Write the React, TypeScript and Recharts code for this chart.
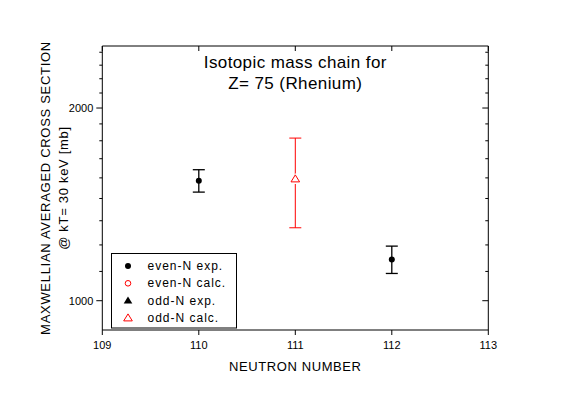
import React from 'react';
import { ScatterChart, Scatter, XAxis, YAxis, ErrorBar, ReferenceArea, Legend, Label } from 'recharts';

// neutron number axis
const neutronTicks = [109, 110, 111, 112, 113];
// MACS axis (log), major ticks labelled, minors every 1/9 of a thousand
const macsMajorTicks = [1000, 2000];
const macsDomain = [900, 2500];
const macsMinorStep = 1000 / 9;

// even-N experimental values
const evenExpN = [110, 112];
const evenExpMacs = [1540, 1160];
const evenExpErr = [62, 57];

// odd-N calculated values
const oddCalcN = [111];
const oddCalcMacs = [1550];
const oddCalcErrDown = [250];
const oddCalcErrUp = [245];

const seriesNames = ['even-N exp.', 'even-N calc.', 'odd-N exp.', 'odd-N calc.'];

const W = 551;
const H = 375;
const margin = { top: 38, right: 70.7, bottom: 13, left: 44.3 };
const yAxisW = 50;
const xAxisH = 40;
const plotW = W - margin.left - margin.right - yAxisW;
const plotH = H - margin.top - margin.bottom - xAxisH;

const FONT = 'Arial, "Liberation Sans", sans-serif';

const yTicks: number[] = [];
for (let k = 0; 1000 + k * macsMinorStep <= macsDomain[1]; k++) {
  yTicks.push(1000 + k * macsMinorStep);
}

const evenExpData = evenExpN.map((n, i) => ({ n, macs: evenExpMacs[i], err: evenExpErr[i] }));
const oddCalcData = oddCalcN.map((n, i) => ({ n, macs: oddCalcMacs[i], err: [oddCalcErrDown[i], oddCalcErrUp[i]] }));

const isMajor = (v: number) => macsMajorTicks.some((m) => Math.abs(m - v) < 1);

const YTick = (props: any) => {
  const { x, y, payload } = props;
  const major = isMajor(payload.value);
  const len = major ? 6 : 3;
  return (
    <g>
      <line x1={x - len} x2={x} y1={y} y2={y} stroke="#000" />
      <line x1={x + plotW - len} x2={x + plotW} y1={y} y2={y} stroke="#000" />
      {major && (
        <text x={x - 9} y={y} dy={4} textAnchor="end" fontSize={11} fontFamily={FONT} fill="#000">
          {Math.round(payload.value)}
        </text>
      )}
    </g>
  );
};

const XTick = (props: any) => {
  const { x, y, payload } = props;
  return (
    <g>
      <line x1={x} x2={x} y1={y} y2={y + 5} stroke="#000" />
      <line x1={x} x2={x} y1={y - plotH} y2={y - plotH + 5} stroke="#000" />
      <text x={x} y={y + 19} textAnchor="middle" fontSize={11} fontFamily={FONT} fill="#000">
        {payload.value}
      </text>
    </g>
  );
};

const Dot = (props: any) => <circle cx={props.cx} cy={props.cy} r={3} fill="#000" />;

const Triangle = (props: any) => {
  const { cx, cy } = props;
  return (
    <g>
      <path d={`M${cx},${cy - 6} L${cx + 6},${cy + 5} L${cx - 6},${cy + 5} Z`} fill="#fff" />
      <path d={`M${cx},${cy - 4} L${cx + 4.3},${cy + 3} L${cx - 4.3},${cy + 3} Z`} fill="#fff" stroke="#f00" strokeWidth={1} />
    </g>
  );
};

const legendMarker = (name: string, x: number, y: number) => {
  if (name === 'even-N exp.') return <circle cx={x} cy={y} r={3} fill="#000" />;
  if (name === 'even-N calc.') return <circle cx={x} cy={y} r={2.8} fill="none" stroke="#f00" />;
  const d = `M${x},${y - 4} L${x + 4.3},${y + 3} L${x - 4.3},${y + 3} Z`;
  if (name === 'odd-N exp.') return <path d={d} fill="#000" />;
  return <path d={d} fill="none" stroke="#f00" />;
};

const LegendBox = () => (
  <svg width={127} height={76} style={{ display: 'block' }}>
    <rect x={0.5} y={0.5} width={125} height={74.5} fill="#fff" stroke="#000" />
    {seriesNames.map((name, i) => {
      const cy = 13 + i * 17.3;
      return (
        <g key={name}>
          {legendMarker(name, 17, cy)}
          <text x={36.5} y={cy + 4} fontSize={12} letterSpacing={1} fontFamily={FONT} fill="#000">
            {name}
          </text>
        </g>
      );
    })}
  </svg>
);

const YLabel = () => {
  const cy = margin.top + plotH / 2;
  return (
    <g fontFamily={FONT} fontSize={13} letterSpacing={0.7} fill="#000">
      <text x={37} y={cy} transform={`rotate(-90, 37, ${cy})`} textAnchor="middle" dominantBaseline="central">
        MAXWELLIAN AVERAGED CROSS SECTION
      </text>
      <text x={55} y={cy} transform={`rotate(-90, 55, ${cy})`} textAnchor="middle" dominantBaseline="central">
        @ kT= 30 keV [mb]
      </text>
    </g>
  );
};

const XLabel = () => (
  <text
    x={margin.left + yAxisW + plotW / 2}
    y={363}
    textAnchor="middle"
    fontFamily={FONT}
    fontSize={13}
    letterSpacing={0.6}
    fill="#000"
  >
    NEUTRON NUMBER
  </text>
);

export default function App() {
  return (
    <div style={{ position: 'relative', width: W, height: H, background: '#fff' }}>
      <ScatterChart width={W} height={H} margin={margin}>
        <XAxis
          type="number"
          dataKey="n"
          domain={[neutronTicks[0], neutronTicks[neutronTicks.length - 1]]}
          ticks={neutronTicks}
          interval={0}
          axisLine={false}
          tickLine={false}
          tickSize={0}
          tickMargin={0}
          height={xAxisH}
          tick={<XTick />}
          allowDataOverflow
        >
          <Label content={<XLabel />} />
        </XAxis>
        <YAxis
          type="number"
          dataKey="macs"
          scale="log"
          domain={macsDomain}
          ticks={yTicks}
          interval={0}
          axisLine={false}
          tickLine={false}
          tickSize={0}
          tickMargin={0}
          width={yAxisW}
          tick={<YTick />}
          allowDataOverflow
        >
          <Label content={<YLabel />} />
        </YAxis>
        <ReferenceArea
          x1={neutronTicks[0]}
          x2={neutronTicks[neutronTicks.length - 1]}
          y1={macsDomain[0]}
          y2={macsDomain[1]}
          fill="none"
          fillOpacity={0}
          stroke="#000"
          strokeWidth={1}
        />
        <Scatter name={seriesNames[0]} data={evenExpData} fill="#000" shape={<Dot />} isAnimationActive={false}>
          <ErrorBar dataKey="err" direction="y" width={6} stroke="#000" strokeWidth={1.3} />
        </Scatter>
        <Scatter name={seriesNames[1]} data={[]} fill="#f00" isAnimationActive={false} />
        <Scatter name={seriesNames[2]} data={[]} fill="#000" isAnimationActive={false} />
        <Scatter name={seriesNames[3]} data={oddCalcData} fill="#f00" shape={<Triangle />} isAnimationActive={false}>
          <ErrorBar dataKey="err" direction="y" width={6} stroke="#f00" strokeWidth={1} />
        </Scatter>
        <Legend
          layout="vertical"
          align="center"
          verticalAlign="middle"
          content={<LegendBox />}
          wrapperStyle={{ position: 'absolute', left: 102.7, top: 244.7, width: 127, height: 76 }}
        />
      </ScatterChart>
      <div
        style={{
          position: 'absolute',
          left: margin.left + yAxisW,
          top: 44,
          width: plotW,
          textAlign: 'center',
          fontFamily: FONT,
          fontSize: 17,
          letterSpacing: 0.4,
          lineHeight: '21px',
          color: '#000',
        }}
      >
        Isotopic mass chain for
        <br />
        Z= 75 (Rhenium)
      </div>
    </div>
  );
}
